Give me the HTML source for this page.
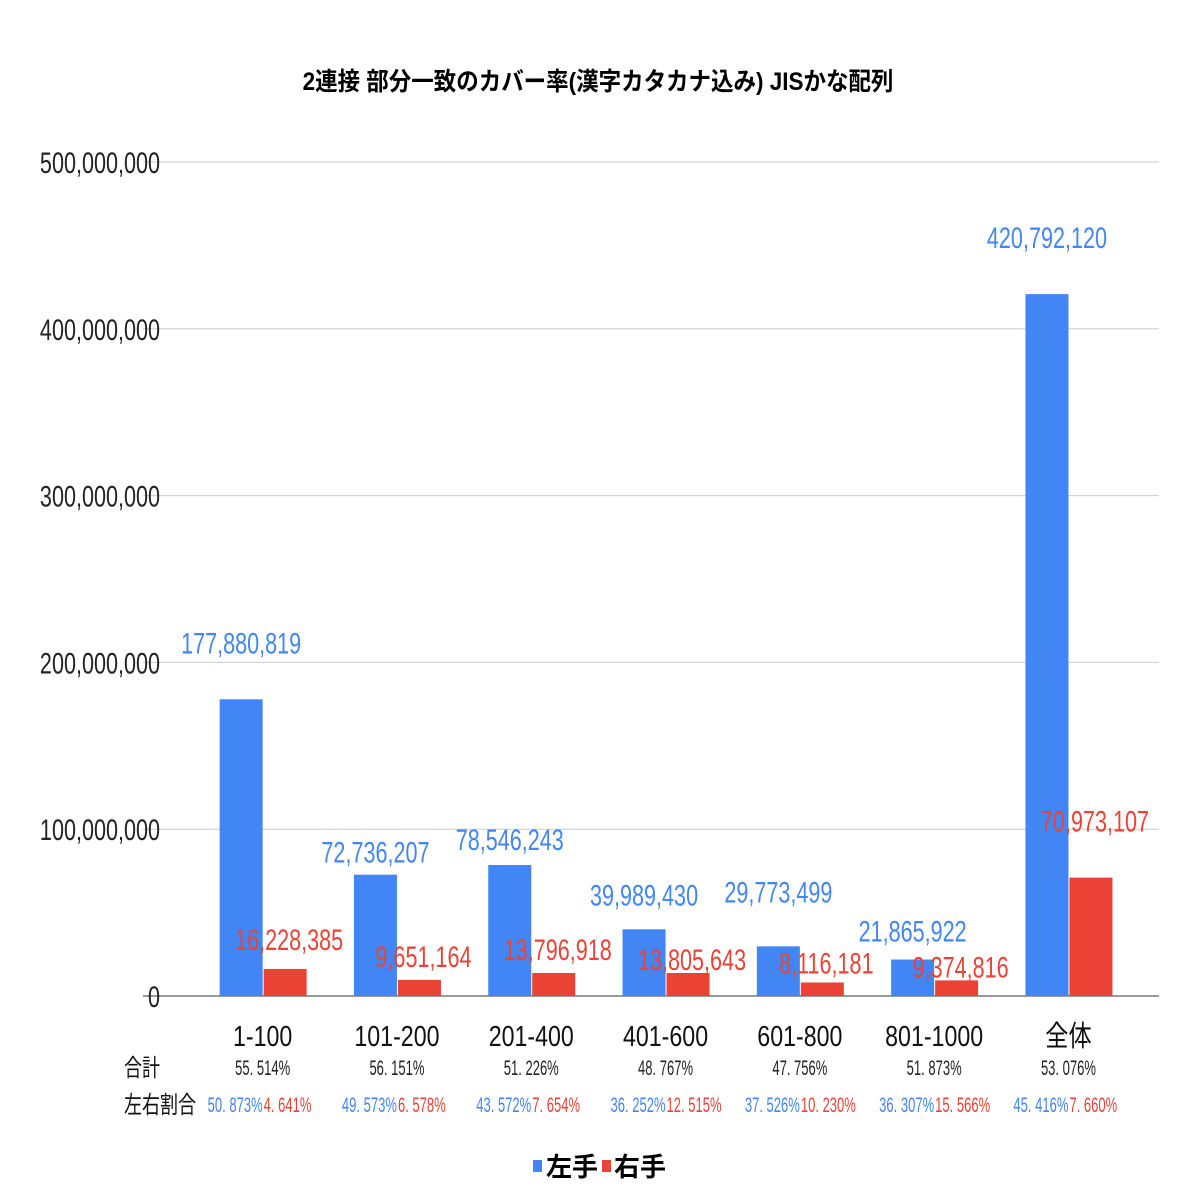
<!DOCTYPE html>
<html><head><meta charset="utf-8"><style>
html,body{margin:0;padding:0;background:#fff;}
svg text{font-family:"Liberation Sans","Noto Sans CJK JP",sans-serif;}
</style></head><body>
<svg id="chart" width="1196" height="1196" viewBox="0 0 1196 1196" xmlns="http://www.w3.org/2000/svg">
<rect width="1196" height="1196" fill="#fff"/>
<text x="598" y="90" text-anchor="middle" font-size="25" font-weight="bold" transform="translate(598,0) scale(0.9,1) translate(-598,0)">2連接 部分一致のカバー率(漢字カタカナ込み) JISかな配列</text>
<g id="grid"></g><g id="bars"></g><g id="labels"></g>
<g>
<rect x="533" y="1160" width="9" height="12" fill="#4285f4"/>
<text x="546" y="1176" font-size="26" font-weight="bold">左手</text>
<rect x="602" y="1160" width="9" height="12" fill="#ea4335"/>
<text x="614" y="1176" font-size="26" font-weight="bold">右手</text>
</g>
</svg>
<script>
const categories=["1-100","101-200","201-400","401-600","601-800","801-1000","全体"];
const leftHand=[177880819,72736207,78546243,39989430,29773499,21865922,420792120];
const rightHand=[16228385,9651164,13796918,13805643,8116181,9374816,70973107];
const totalPct=["55. 514%","56. 151%","51. 226%","48. 767%","47. 756%","51. 873%","53. 076%"];
const leftPct=["50. 873%","49. 573%","43. 572%","36. 252%","37. 526%","36. 307%","45. 416%"];
const rightPct=["4. 641%","6. 578%","7. 654%","12. 515%","10. 230%","15. 566%","7. 660%"];
const yTicks=[0,100000000,200000000,300000000,400000000,500000000];
const NS="http://www.w3.org/2000/svg";
const y0=996,yTop=162,yMax=500000000,plotL=195.5,step=134.3,bw=43;
const liftLeft=[46,12,15,24,44,18,46];
const liftRight=[19,13,13,3,9,3,46];
const y=v=>y0-(v/yMax)*(y0-yTop);
const cx=i=>plotL+step*(i+0.5);
function mk(tag,attrs,parent){const e=document.createElementNS(NS,tag);for(const k in attrs)e.setAttribute(k,attrs[k]);parent.appendChild(e);return e;}
function txt(parent,s,x,yy,size,fill,anchor,sx){const t=mk('text',{x:0,y:0,'font-size':size,fill:fill,'text-anchor':anchor,transform:`translate(${x},${yy}) scale(${sx},1)`},parent);t.textContent=s;return t;}
const grid=document.getElementById('grid'),bars=document.getElementById('bars'),labels=document.getElementById('labels');
yTicks.forEach(v=>{
 const l=mk('line',{x1:143,x2:1159,y1:y(v),y2:y(v),stroke:v===0?'#333':'#ccc','stroke-width':1},grid);
 
 
 const t=txt(grid,v.toLocaleString('en-US'),160,y(v)+11,30,'#222','end',0.72);
 
 
});
const fmt=v=>v.toLocaleString('en-US');
categories.forEach((c,i)=>{
 const c0=cx(i);
 const b=mk('rect',{x:c0-bw,y:y(leftHand[i]),width:bw,height:y0-y(leftHand[i]),fill:'#4285f4'},bars);
 
 
 const r=mk('rect',{x:c0+1,y:y(rightHand[i]),width:bw,height:y0-y(rightHand[i]),fill:'#ea4335'},bars);
 
 
 const lb=txt(labels,fmt(leftHand[i]),c0-bw/2,y(leftHand[i])-liftLeft[i],30,'#4285f4','middle',0.72);
 
 
 const rb=txt(labels,fmt(rightHand[i]),c0+bw/2+5,y(rightHand[i])-liftRight[i],30,'#ea4335','middle',0.72);
 
 
 const cl=txt(labels,c,c0,1046,29,'#111','middle',0.8);
 
 
 const tp=txt(labels,totalPct[i],c0,1075,21,'#222','middle',0.62);
 
 
 const lp=txt(labels,leftPct[i],c0,1112,21,'#4285f4','end',0.62);
 
 
 const rp=txt(labels,rightPct[i],c0+1,1112,21,'#ea4335','start',0.62);
 
 
});
const h1=txt(labels,'合計',124,1076,24,'#111','start',0.75);


const h2=txt(labels,'左右割合',124,1113,24,'#111','start',0.75);


</script>
</body></html>
